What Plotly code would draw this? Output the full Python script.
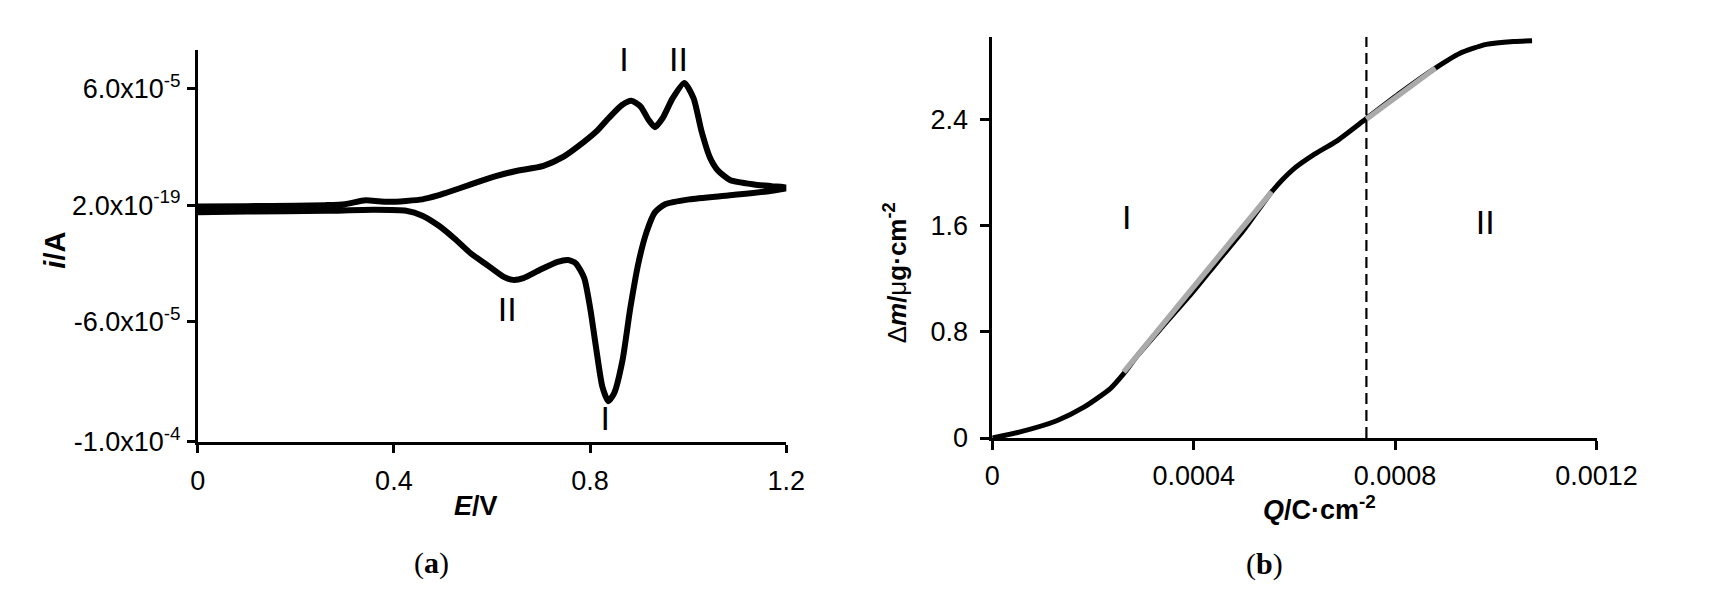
import numpy as np
import plotly.graph_objects as go

# ---------------- data: panel (a) cyclic voltammogram ----------------
# potential E (V) along the loop: anodic sweep then cathodic return
E_anodic = [0.000, 0.100, 0.200, 0.260, 0.300, 0.342, 0.370, 0.392, 0.425, 0.458,
            0.490, 0.507, 0.557, 0.606, 0.647, 0.705, 0.746, 0.788, 0.815, 0.838,
            0.865, 0.884, 0.903, 0.919, 0.932, 0.948, 0.968, 0.992, 1.011, 1.027,
            1.044, 1.060, 1.085, 1.134, 1.170, 1.204]
i_anodic = [-0.07, -0.05, -0.03, 0.00, 0.05, 0.25, 0.20, 0.17, 0.22, 0.30,
            0.50, 0.64, 1.07, 1.49, 1.75, 2.03, 2.50, 3.27, 3.85, 4.49,
            5.16, 5.38, 5.08, 4.40, 4.02, 4.49, 5.50, 6.30, 5.50, 3.82,
            2.47, 1.80, 1.30, 1.07, 0.98, 0.90]
E_cathodic = [1.167, 1.085, 1.002, 0.953, 0.932, 0.915, 0.899, 0.882, 0.866, 0.849,
              0.837, 0.825, 0.812, 0.800, 0.788, 0.771, 0.755, 0.734, 0.697, 0.664,
              0.643, 0.623, 0.590, 0.557, 0.524, 0.491, 0.458, 0.425, 0.359, 0.260,
              0.100, 0.000]
i_cathodic = [0.73, 0.51, 0.30, 0.05, -0.37, -1.39, -2.92, -5.29, -8.00, -9.69,
              -10.10, -9.36, -7.32, -5.29, -3.76, -3.00, -2.83, -2.92, -3.34, -3.76,
              -3.85, -3.68, -3.08, -2.49, -1.73, -1.05, -0.54, -0.29, -0.24, -0.29,
              -0.33, -0.37]
current_unit = 1e-5  # values above are in units of 1e-5 A

cv_xticks = [0, 0.4, 0.8, 1.2]
cv_xticktext = ["0", "0.4", "0.8", "1.2"]
cv_yticks = [6e-5, 0, -6e-5, -1.22e-4]
cv_yticktext = ["6.0x10<sup>-5</sup>", "2.0x10<sup>-19</sup>",
                "-6.0x10<sup>-5</sup>", "-1.0x10<sup>-4</sup>"]
cv_labels = ["I", "II", "II", "I"]
cv_label_E = [0.869, 0.980, 0.631, 0.831]
cv_label_i = [7.35e-5, 7.35e-5, -5.55e-5, -11.15e-5]

# ---------------- data: panel (b) mass change vs charge ----------------
Q = [0.0, 0.0000533, 0.000128, 0.000181, 0.000235, 0.000261, 0.000288, 0.000341,
     0.000395, 0.000448, 0.000501, 0.000555, 0.000597, 0.000640, 0.000683,
     0.000743, 0.000811, 0.000880, 0.000928, 0.000981, 0.001035, 0.001072]
dm = [0.0, 0.044, 0.130, 0.230, 0.374, 0.484, 0.619, 0.851,
      1.084, 1.330, 1.573, 1.854, 2.020, 2.136, 2.233,
      2.405, 2.600, 2.784, 2.894, 2.963, 2.985, 2.990]
fit1_Q = [0.000261, 0.000555]
fit1_dm = [0.497, 1.854]
fit2_Q = [0.000743, 0.000880]
fit2_dm = [2.400, 2.784]
boundary_Q = 0.000743
boundary_dm = [0.0, 3.02]

qm_xticks = [0, 0.0004, 0.0008, 0.0012]
qm_xticktext = ["0", "0.0004", "0.0008", "0.0012"]
qm_yticks = [0, 0.8, 1.6, 2.4]
qm_yticktext = ["0", "0.8", "1.6", "2.4"]
qm_labels = ["I", "II"]
qm_label_Q = [0.000267, 0.000979]
qm_label_dm = [1.634, 1.600]

# ---------------- figure ----------------
W, H = 1715, 602
SANS = "Liberation Sans, Arial, sans-serif"
SERIF = "Liberation Serif, Times New Roman, serif"

E_loop = E_anodic + E_cathodic
i_loop = (np.array(i_anodic + i_cathodic) * current_unit).tolist()

fig = go.Figure()
fig.add_trace(go.Scatter(x=E_loop, y=i_loop, mode="lines",
                         line=dict(color="black", width=6, shape="spline", smoothing=0.6),
                         xaxis="x", yaxis="y", showlegend=False, hoverinfo="skip"))
fig.add_trace(go.Scatter(x=cv_label_E, y=cv_label_i, mode="text", text=cv_labels,
                         textfont=dict(family=SANS, size=34, color="black"),
                         xaxis="x", yaxis="y", showlegend=False, hoverinfo="skip",
                         cliponaxis=False))

fig.add_trace(go.Scatter(x=Q, y=dm, mode="lines",
                         line=dict(color="black", width=5, shape="spline", smoothing=0.6),
                         xaxis="x2", yaxis="y2", showlegend=False, hoverinfo="skip"))
fig.add_trace(go.Scatter(x=fit1_Q, y=fit1_dm, mode="lines",
                         line=dict(color="#aaaaaa", width=5.5),
                         xaxis="x2", yaxis="y2", showlegend=False, hoverinfo="skip"))
fig.add_trace(go.Scatter(x=fit2_Q, y=fit2_dm, mode="lines",
                         line=dict(color="#aaaaaa", width=5.5),
                         xaxis="x2", yaxis="y2", showlegend=False, hoverinfo="skip"))
fig.add_trace(go.Scatter(x=[boundary_Q, boundary_Q], y=boundary_dm, mode="lines",
                         line=dict(color="black", width=2.2, dash="11px,6px"),
                         xaxis="x2", yaxis="y2", showlegend=False, hoverinfo="skip"))
fig.add_trace(go.Scatter(x=qm_label_Q, y=qm_label_dm, mode="text", text=qm_labels,
                         textfont=dict(family=SANS, size=34, color="black"),
                         xaxis="x2", yaxis="y2", showlegend=False, hoverinfo="skip",
                         cliponaxis=False))

axis_common = dict(showgrid=False, zeroline=False, showline=True, linecolor="black",
                   ticks="outside", tickcolor="black", tickwidth=2.5,
                   tickfont=dict(family=SANS, size=27, color="black"), fixedrange=True)

fig.update_layout(
    width=W, height=H, margin=dict(l=0, r=0, t=0, b=0),
    paper_bgcolor="white", plot_bgcolor="white", showlegend=False,
    xaxis=dict(domain=[187 / W, 793 / W], range=[0, 1.2], anchor="y",
               tickmode="array", tickvals=cv_xticks, ticktext=cv_xticktext,
               linewidth=3, ticklen=8, ticklabelstandoff=5, **axis_common),
    yaxis=dict(domain=[(H - 445) / H, (H - 43) / H], range=[-1.22e-4, 8.0e-5], anchor="x",
               tickmode="array", tickvals=cv_yticks, ticktext=cv_yticktext,
               linewidth=2.5, ticklen=8, ticklabelstandoff=1, **axis_common),
    xaxis2=dict(domain=[1005 / W, 1627 / W], range=[0, 0.0012], anchor="y2",
                tickmode="array", tickvals=qm_xticks, ticktext=qm_xticktext,
                linewidth=3, ticklen=9, ticklabelstandoff=3, **axis_common),
    yaxis2=dict(domain=[(H - 441) / H, (H - 29.5) / H], range=[0, 3.02], anchor="x2",
                tickmode="array", tickvals=qm_yticks, ticktext=qm_yticktext,
                linewidth=2.5, ticklen=10, ticklabelstandoff=6, **axis_common),
)

annotations = [
    dict(text="<b><i>i</i>/A</b>", x=40 / W, y=(H - 248) / H, textangle=-90,
         font=dict(family=SANS, size=29, color="black")),
    dict(text="Δ<b><i>m</i>/</b>μ<b>g·cm<sup>-2</sup></b>", x=905 / W, y=(H - 272) / H,
         textangle=-90, font=dict(family=SANS, size=26, color="black")),
    dict(text="<b><i>E</i>/V</b>", x=474 / W, y=(H - 511) / H,
         font=dict(family=SANS, size=27, color="black")),
    dict(text="<b><i>Q</i>/C·cm<sup>-2</sup></b>", x=1342 / W, y=(H - 513) / H,
         font=dict(family=SANS, size=27, color="black")),
    dict(text="(<b>a</b>)", x=428 / W, y=(H - 569) / H,
         font=dict(family=SERIF, size=30, color="black")),
    dict(text="(<b>b</b>)", x=1285 / W, y=(H - 570) / H,
         font=dict(family=SERIF, size=30, color="black")),
]
for a in annotations:
    a.update(xref="paper", yref="paper", showarrow=False, xanchor="center", yanchor="middle")
fig.update_layout(annotations=annotations)

fig.write_html("out.html")
